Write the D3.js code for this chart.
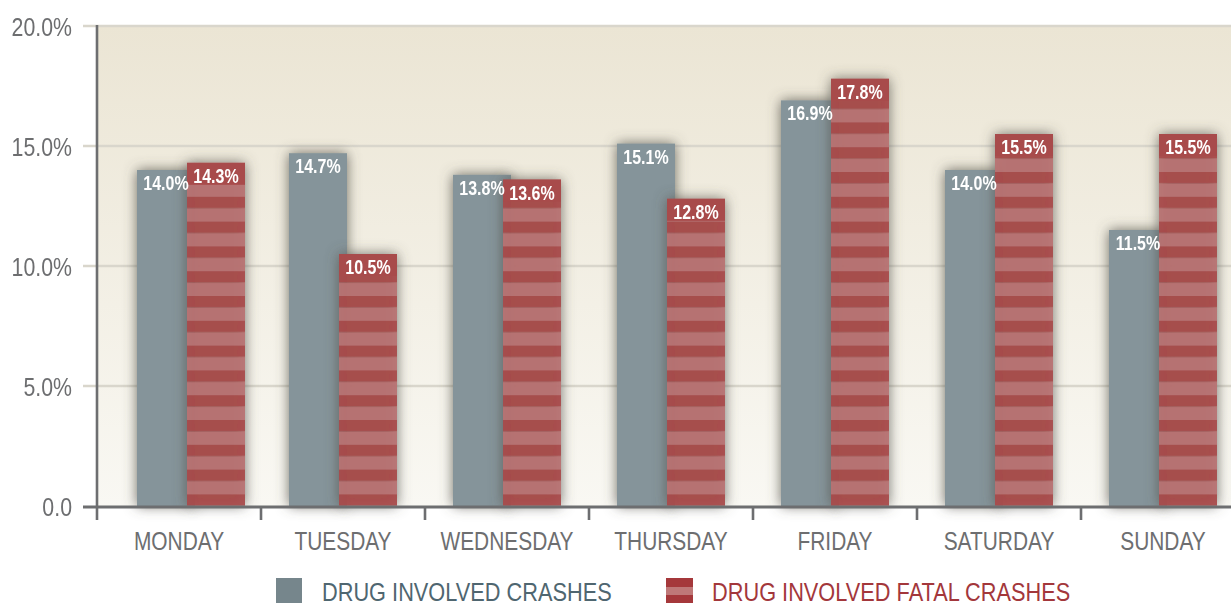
<!DOCTYPE html>
<html>
<head>
<meta charset="utf-8">
<script src="https://cdn.jsdelivr.net/npm/d3@7"></script>
<style>
  html, body { margin: 0; padding: 0; background: #ffffff; overflow: hidden; }
  svg { display: block; }
  text { font-family: "Liberation Sans", Arial, sans-serif; }
</style>
</head>
<body>
<svg id="chart" width="1231" height="603"></svg>
<script>
const days = ["MONDAY", "TUESDAY", "WEDNESDAY", "THURSDAY", "FRIDAY", "SATURDAY", "SUNDAY"];
const drugCrashes = [14.0, 14.7, 13.8, 15.1, 16.9, 14.0, 11.5];
const fatalCrashes = [14.3, 10.5, 13.6, 12.8, 17.8, 15.5, 15.5];
const yTickValues = [0, 5, 10, 15, 20];
const yTickLabels = ["0.0", "5.0%", "10.0%", "15.0%", "20.0%"];
const seriesNames = ["DRUG INVOLVED CRASHES", "DRUG INVOLVED FATAL CRASHES"];

const W = 1231, H = 603;
const svg = d3.select("#chart");
const axisX = 97;
const x = d3.scaleBand().domain(days).range([axisX, axisX + 164 * days.length]).padding(0);
const y = d3.scaleLinear().domain([0, 20]).range([506, 26]);
const NARROW = 0.82;

// horizontally condense text around its anchor point
function condense(sel, s) {
  sel.each(function () {
    const t = d3.select(this);
    const ax = +t.attr("x") || 0, ay = +t.attr("y") || 0;
    t.attr("transform", `translate(${ax},${ay}) scale(${s},1) translate(${-ax},${-ay})`);
  });
}

const defs = svg.append("defs");
const bg = defs.append("linearGradient").attr("id", "bg").attr("x1", 0).attr("y1", 0).attr("x2", 0).attr("y2", 1);
bg.append("stop").attr("offset", "0%").attr("stop-color", "#ebe5d4");
bg.append("stop").attr("offset", "100%").attr("stop-color", "#f9f8f3");

const stripePeriod = 24.8, darkH = 11.6;
const pat = defs.append("pattern").attr("id", "stripes")
  .attr("patternUnits", "userSpaceOnUse")
  .attr("x", 0).attr("y", y(0) - darkH)
  .attr("width", 20).attr("height", stripePeriod);
pat.append("rect").attr("x", 0).attr("y", 0).attr("width", 20).attr("height", darkH).attr("fill", "#a84b4b");
pat.append("rect").attr("x", 0).attr("y", darkH).attr("width", 20).attr("height", stripePeriod - darkH).attr("fill", "#b87272");

const sh = defs.append("filter").attr("id", "shadow").attr("x", "-50%").attr("y", "-10%").attr("width", "200%").attr("height", "120%");
sh.append("feGaussianBlur").attr("in", "SourceAlpha").attr("stdDeviation", 6.5).attr("result", "blur");
sh.append("feFlood").attr("flood-color", "#55534b").attr("flood-opacity", 0.85).attr("result", "col");
sh.append("feComposite").attr("in", "col").attr("in2", "blur").attr("operator", "in").attr("result", "shadow");
const mg = sh.append("feMerge");
mg.append("feMergeNode").attr("in", "shadow");
mg.append("feMergeNode").attr("in", "SourceGraphic");

// plot background
svg.append("rect").attr("x", axisX).attr("y", y(20)).attr("width", W - axisX).attr("height", y(0) - y(20)).attr("fill", "url(#bg)");

// gridlines
svg.append("g").selectAll("line").data(yTickValues.filter(v => v > 0)).join("line")
  .attr("x1", 83).attr("x2", W).attr("y1", d => y(d)).attr("y2", d => y(d))
  .attr("stroke", "#d9d6cc").attr("stroke-width", 2.5);

// bars
const barW = 58, overlap = 8, groupW = barW * 2 - overlap, minClear = 40;
const groupLeft = d => Math.max(x(d) + (x.bandwidth() - groupW) / 2, axisX + minClear);

const gGrey = svg.append("g").attr("filter", "url(#shadow)");
gGrey.selectAll("rect").data(days).join("rect")
  .attr("x", d => groupLeft(d)).attr("width", barW)
  .attr("y", (d, i) => y(drugCrashes[i])).attr("height", (d, i) => y(0) - y(drugCrashes[i]))
  .attr("fill", "#85949a");

const gRed = svg.append("g").attr("filter", "url(#shadow)");
gRed.selectAll("rect.bar").data(days).join("rect").attr("class", "bar")
  .attr("x", d => groupLeft(d) + barW - overlap).attr("width", barW)
  .attr("y", (d, i) => y(fatalCrashes[i])).attr("height", (d, i) => y(0) - y(fatalCrashes[i]))
  .attr("fill", "url(#stripes)").attr("opacity", 0.94);
svg.append("g").selectAll("rect").data(days).join("rect")
  .attr("x", d => groupLeft(d) + barW - overlap).attr("width", barW)
  .attr("y", (d, i) => y(fatalCrashes[i])).attr("height", 22)
  .attr("fill", "#a84b4b");

// value labels
const lbl = svg.append("g").attr("font-weight", "bold").attr("font-size", 19.5).attr("fill", "#ffffff").attr("text-anchor", "middle");
lbl.selectAll("text.g").data(days).join("text").attr("class", "g")
  .attr("x", d => groupLeft(d) + barW / 2)
  .attr("y", (d, i) => y(drugCrashes[i]) + 20)
  .text((d, i) => drugCrashes[i].toFixed(1) + "%");
lbl.selectAll("text.r").data(days).join("text").attr("class", "r")
  .attr("x", d => groupLeft(d) + barW - overlap + barW / 2)
  .attr("y", (d, i) => y(fatalCrashes[i]) + 20)
  .text((d, i) => fatalCrashes[i].toFixed(1) + "%");
condense(lbl.selectAll("text"), NARROW);

// axes lines
const axisCol = "#6d6e70";
svg.append("line").attr("x1", axisX).attr("x2", axisX).attr("y1", y(20) - 1).attr("y2", 520)
  .attr("stroke", axisCol).attr("stroke-width", 2.6);
svg.append("line").attr("x1", 83).attr("x2", W).attr("y1", y(0) + 1).attr("y2", y(0) + 1)
  .attr("stroke", axisCol).attr("stroke-width", 3);
svg.append("g").selectAll("line").data(days.slice(1)).join("line")
  .attr("x1", d => x(d)).attr("x2", d => x(d)).attr("y1", y(0)).attr("y2", 520)
  .attr("stroke", axisCol).attr("stroke-width", 2.6);

// y axis labels
const yAxis = d3.axisLeft(y).tickValues(yTickValues).tickFormat((d, i) => yTickLabels[i]).tickSize(0).tickPadding(0);
const gy = svg.append("g").attr("transform", "translate(72,0)").call(yAxis);
gy.select(".domain").remove();
gy.selectAll("text").attr("font-size", 26).attr("fill", axisCol).attr("font-family", null).attr("dy", "0.36em");
condense(gy.selectAll("text"), NARROW);

// x axis labels
const xAxis = d3.axisBottom(x).tickSize(0).tickPadding(0);
const gx = svg.append("g").attr("transform", "translate(0,550)").call(xAxis);
gx.select(".domain").remove();
gx.selectAll("text").attr("font-size", 25.5).attr("fill", axisCol).attr("font-family", null).attr("dy", 0);
condense(gx.selectAll("text"), NARROW);

// legend
const leg = svg.append("g").attr("font-size", 26);
leg.append("rect").attr("x", 276).attr("y", 578).attr("width", 26).attr("height", 25).attr("fill", "#76868c");
leg.append("rect").attr("x", 666).attr("y", 578).attr("width", 27).attr("height", 25).attr("fill", "#a5383b");
leg.append("rect").attr("x", 666).attr("y", 587).attr("width", 27).attr("height", 8).attr("fill", "#bf7878");
leg.append("text").attr("x", 322).attr("y", 601).attr("fill", "#4f6670").text(seriesNames[0]);
leg.append("text").attr("x", 712).attr("y", 601).attr("fill", "#a3373b").text(seriesNames[1]);
condense(leg.selectAll("text"), 0.837);
</script>
</body>
</html>
